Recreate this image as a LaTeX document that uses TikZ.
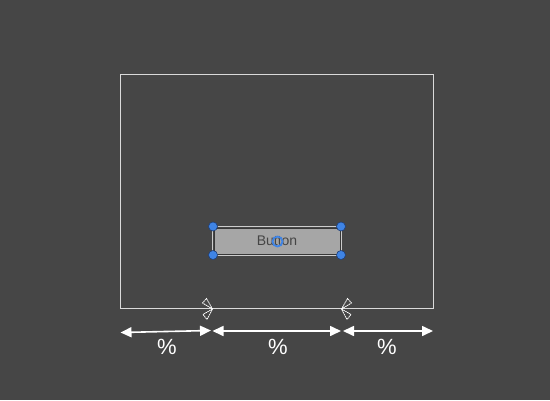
\documentclass[tikz,border=0pt]{standalone}
\usepackage{fontspec}
\setmainfont{Liberation Sans}
\usetikzlibrary{arrows.meta}
\definecolor{bg}{HTML}{464646}
\definecolor{frame}{HTML}{DADADA}
\definecolor{btnfill}{HTML}{A6A6A6}
\definecolor{btnedge}{HTML}{383838}
\definecolor{btntext}{HTML}{454545}
\definecolor{handle}{HTML}{3F84E5}
\definecolor{handleedge}{HTML}{1E3F7A}
\tikzset{
  dimarrow/.style={draw=white, line width=1.6pt, {Triangle[length=11pt,width=10pt]}-{Triangle[length=11pt,width=10pt]}},
  pct/.style={text=white, font=\fontsize{22}{24}\selectfont, inner sep=0pt},
  handledot/.style={circle, fill=handle, draw=handleedge, line width=0.6pt, minimum size=9pt, inner sep=0pt},
  anchortri/.style={draw=white, line width=0.8pt, dash pattern=on 1.6pt off 0.6pt, fill=none},
}
\begin{document}
\begin{tikzpicture}[x=1pt,y=-1pt]
\fill[bg] (0,0) rectangle (550,400);
\useasboundingbox (0,0) rectangle (550,400);
% frame
\coordinate (fTL) at (120.5,74.5);
\coordinate (fBR) at (433.5,308.5);
\draw[frame, line width=1pt] (fTL) rectangle (fBR);
% button
\draw[draw=white!80!black, line width=0.8pt] (212.5,226.5) rectangle (341.5,255.5);
\node[draw=btnedge, fill=btnfill, line width=1pt, minimum width=126pt, minimum height=26pt, inner sep=0pt,
      text=btntext, font=\fontsize{14}{16}\selectfont] (btn) at (277,241) {Button};
\node[handledot] (h1) at (213,226.5) {};
\node[handledot] (h2) at (341,226.5) {};
\node[handledot] (h3) at (213,255) {};
\node[handledot] (h4) at (341,255) {};
\node[circle, draw=handle, line width=1.8pt, minimum size=10pt, inner sep=0pt] (pivot) at (277.5,241.5) {};
% anchor markers
\coordinate (aL) at (212.5,309);
\coordinate (aR) at (341.5,309);
\draw[anchortri] (aL) -- (202.5,303) -- (206.5,298.5) -- cycle;
\draw[anchortri] (aL) -- (203,314.5) -- (207,319.5) -- cycle;
\draw[anchortri] (aR) -- (351.5,303) -- (347.5,298.5) -- cycle;
\draw[anchortri] (aR) -- (351,314.5) -- (347,319.5) -- cycle;
% dimension arrows
\coordinate (d0) at (120.5,332.5);
\coordinate (d1) at (211,330.5);
\coordinate (d2) at (212.5,331);
\coordinate (d3) at (341,331);
\coordinate (d4) at (343,331);
\coordinate (d5) at (433,331);
\draw[dimarrow] (d0) -- (d1);
\draw[dimarrow] (d2) -- (d3);
\draw[dimarrow] (d4) -- (d5);
\node[pct] (p1) at (167,347) {\%};
\node[pct] (p2) at (278,347) {\%};
\node[pct] (p3) at (387,347) {\%};
\end{tikzpicture}
\end{document}
